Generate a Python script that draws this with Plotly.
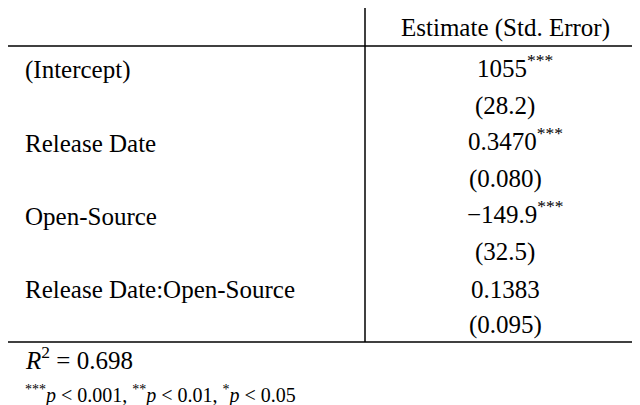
import plotly.graph_objects as go

terms = ["(Intercept)", "Release Date", "Open-Source", "Release Date:Open-Source"]
estimates = ["1055", "0.3470", "\u2212149.9", "0.1383"]
stars = ["***", "***", "***", ""]
std_errors = ["(28.2)", "(0.080)", "(32.5)", "(0.095)"]
header = "Estimate (Std. Error)"
r2_text = "<i>R</i><sup>2</sup> = 0.698"
footnote = "<sup>***</sup><i>p</i> < 0.001, <sup>**</sup><i>p</i> < 0.01, <sup>*</sup><i>p</i> < 0.05"

FONT = "Liberation Serif, Times New Roman, serif"
def f(size):
    return dict(family=FONT, size=size, color="black")

fig = go.Figure()
ann = []
ann.append(dict(x=497, y=20, text=header, xanchor="center", yanchor="middle", font=f(25)))
for i, (t, e, s, se) in enumerate(zip(terms, estimates, stars, std_errors)):
    yv = 62 + 73 * i
    ann.append(dict(x=15, y=yv, text=t, xanchor="left", yanchor="middle", font=f(25)))
    txt = e + (f"<sup>{s}</sup>" if s else "")
    ann.append(dict(x=497 + (10 if s else 0), y=yv - 4 if s else yv, text=txt, xanchor="center", yanchor="middle", font=f(25)))
    ann.append(dict(x=497, y=yv + 36, text=se, xanchor="center", yanchor="middle", font=f(25)))
ann.append(dict(x=15, y=350, text=r2_text, xanchor="left", yanchor="middle", font=f(25)))
ann.append(dict(x=15, y=386, text=footnote, xanchor="left", yanchor="middle", font=f(20)))
for a in ann:
    a.update(xref="x", yref="y", showarrow=False)

shapes = [
    dict(type="line", x0=0, x1=640, y0=38, y1=38, line=dict(color="black", width=1.5)),
    dict(type="line", x0=0, x1=640, y0=334, y1=334, line=dict(color="black", width=1.5)),
    dict(type="line", x0=357, x1=357, y0=0, y1=334, line=dict(color="black", width=1.5)),
]
for s in shapes:
    s.update(xref="x", yref="y")

fig.update_layout(
    width=640, height=405, margin=dict(l=0, r=0, t=0, b=0),
    paper_bgcolor="white", plot_bgcolor="white",
    font=f(25),
    xaxis=dict(range=[0, 640], visible=False, fixedrange=True),
    yaxis=dict(range=[405, 0], visible=False, fixedrange=True),
    annotations=ann, shapes=shapes, showlegend=False,
)
fig.write_html("out.html")
